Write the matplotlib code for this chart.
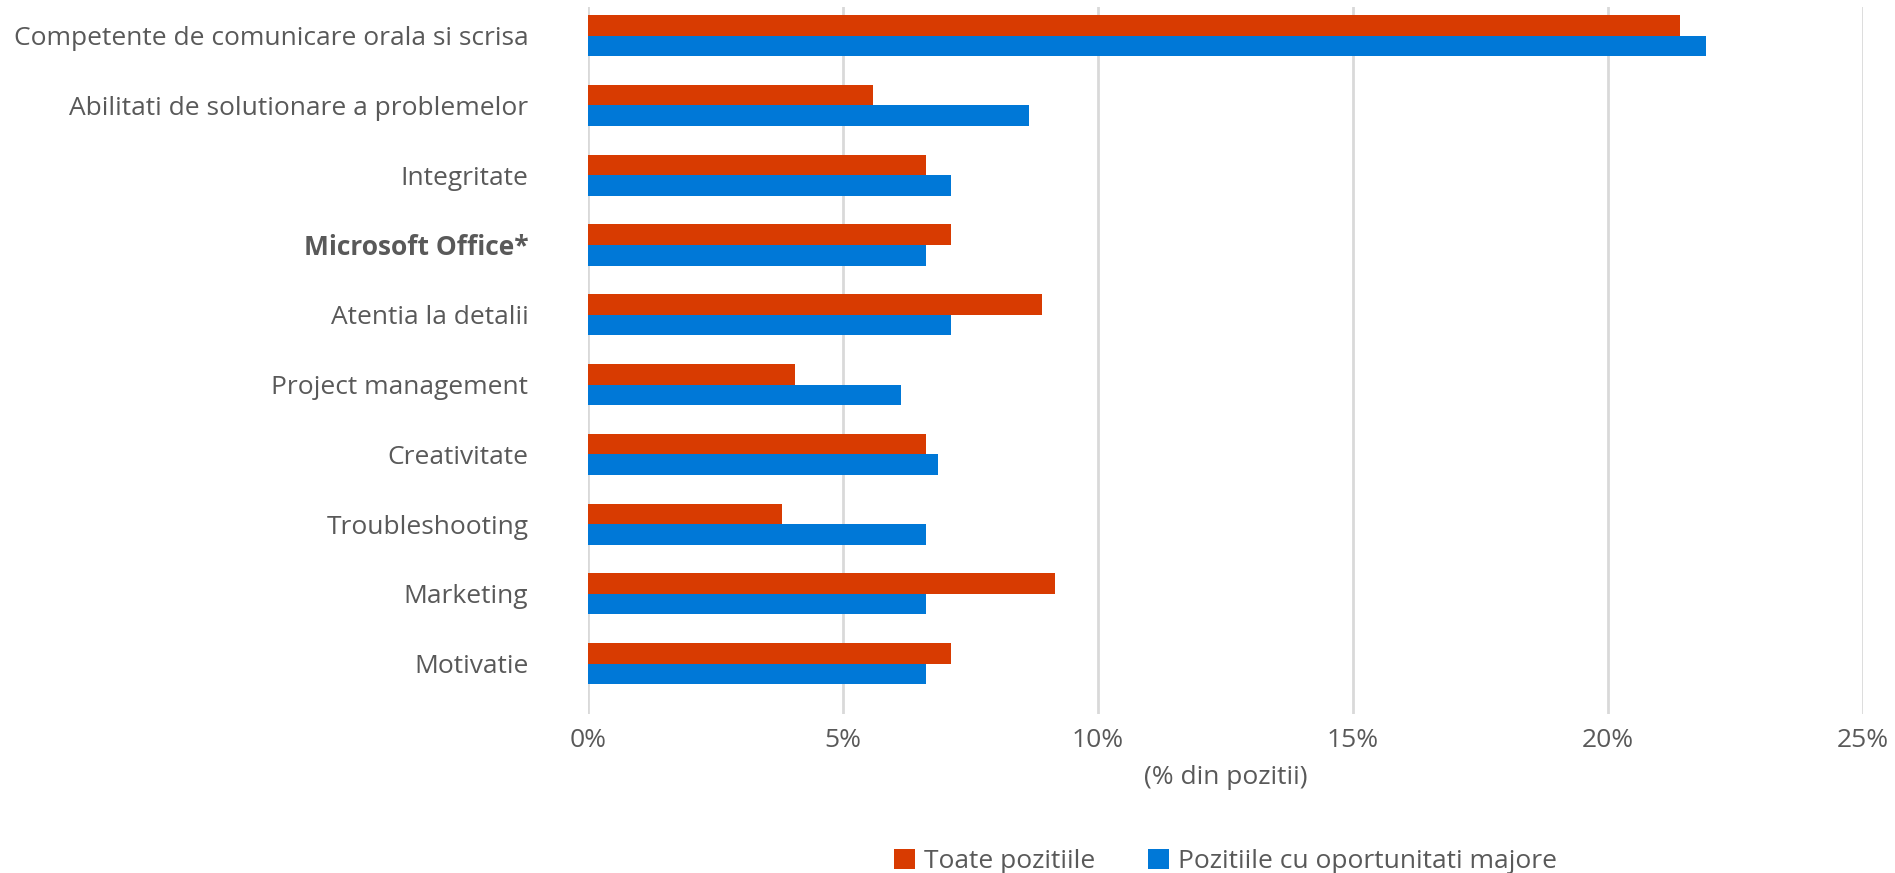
import matplotlib.pyplot as plt
import numpy as np

plt.rcParams['font.family'] = ['Open Sans', 'DejaVu Sans']

# date (% din pozitii)
categorii = [
    "Competente de comunicare orala si scrisa",
    "Abilitati de solutionare a problemelor",
    "Integritate",
    "Microsoft Office*",
    "Atentia la detalii",
    "Project management",
    "Creativitate",
    "Troubleshooting",
    "Marketing",
    "Motivatie",
]
toate_pozitiile = [21.42, 5.59, 6.63, 7.11, 8.90, 4.06, 6.63, 3.81, 9.15, 7.11]
pozitii_majore = [21.92, 8.65, 7.11, 6.63, 7.11, 6.13, 6.86, 6.63, 6.63, 6.63]
tick_vals = [0, 5, 10, 15, 20, 25]
tick_labels = ["0%", "5%", "10%", "15%", "20%", "25%"]

gri = "#595959"
portocaliu = "#D83B01"
albastru = "#0078D7"

fig = plt.figure(figsize=(18.95, 8.73), dpi=100)
ax = fig.add_axes([588 / 1895, 1 - 714 / 873, (1863 - 588) / 1895, (714 - 7) / 873])

y = np.arange(len(categorii))
h = 0.294
ax.barh(y - h / 2, toate_pozitiile, height=h, color=portocaliu, label="Toate pozitiile", zorder=3)
ax.barh(y + h / 2, pozitii_majore, height=h, color=albastru, label="Pozitiile cu oportunitati majore", zorder=3)

ax.set_xlim(0, 25)
ax.set_ylim(9.72, -0.41)
ax.set_xticks(tick_vals)
ax.set_xticklabels(tick_labels)
ax.set_yticks(y)
ax.set_yticklabels(categorii)
for lbl in ax.get_yticklabels():
    if lbl.get_text() == "Microsoft Office*":
        lbl.set_fontweight("bold")

ax.tick_params(axis="y", length=0, pad=43, labelsize=19, labelcolor=gri)
ax.tick_params(axis="x", length=0, pad=10, labelsize=19, labelcolor=gri)
ax.grid(axis="x", color="#D9D9D9", linewidth=2, zorder=0)
for s in ax.spines.values():
    s.set_visible(False)

ax.set_xlabel("(% din pozitii)", fontsize=19, color=gri, labelpad=9)

leg = ax.legend(loc="lower center", bbox_to_anchor=(0.5, -0.26), ncol=2, frameon=False,
                fontsize=19, handlelength=0.8, handleheight=0.8, handletextpad=0.35,
                columnspacing=2.0)
for t in leg.get_texts():
    t.set_color(gri)

fig.savefig("out.png", dpi=100)
